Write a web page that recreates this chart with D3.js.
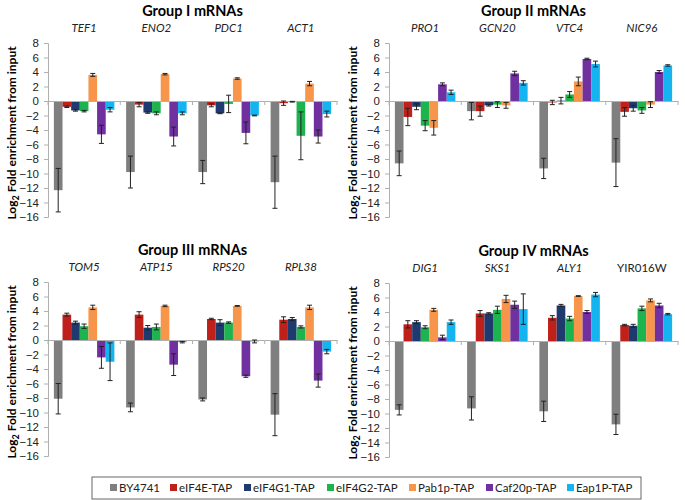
<!DOCTYPE html>
<html lang="en">
<head>
<meta charset="UTF-8">
<title>mRNA enrichment</title>
<script src="https://d3js.org/d3.v7.min.js"></script>
<style>
    body { margin: 0; background: #fff; }
    svg { font-family: Lato, 'Open Sans', sans-serif; }
    .title { font-weight: bold; font-size: 14.5px; text-anchor: middle; }
    .gene { font-style: italic; font-size: 11.5px; text-anchor: middle; fill: #222; }
    .ylab { font-weight: bold; font-size: 12px; text-anchor: middle; }
    .tick text { font-size: 11.5px; fill: #222; }
    .legend text { font-size: 11.5px; fill: #222; }
</style>
</head>
<body>
<svg width="685" height="500"></svg>
<script>
    const series = ["BY4741", "eIF4E-TAP", "eIF4G1-TAP", "eIF4G2-TAP", "Pab1p-TAP", "Caf20p-TAP", "Eap1P-TAP"];
    const colors = ["#7f7f7f", "#c0201a", "#1f3a6e", "#1db34e", "#f7964a", "#7030a0", "#14b4f0"];
    const yTicks = [8, 6, 4, 2, 0, -2, -4, -6, -8, -10, -12, -14, -16];

    const titles = ["Group I mRNAs", "Group II mRNAs", "Group III mRNAs", "Group IV mRNAs"];
    const genes = [
        ["TEF1", "ENO2", "PDC1", "ACT1"],
        ["PRO1", "GCN20", "VTC4", "NIC96"],
        ["TOM5", "ATP15", "RPS20", "RPL38"],
        ["DIG1", "SKS1", "ALY1", "YIR016W"]
    ];
    const italicGene = g => g !== "YIR016W";

    // rows = series, columns = genes
    const group1 = [
        [-12.3, -9.8, -9.8, -11.2],
        [-0.8, -0.5, -0.6, -0.3],
        [-1.3, -1.6, -1.7, -0.1],
        [-1.4, -1.7, -0.4, -4.8],
        [3.6, 3.7, 3.1, 2.4],
        [-4.6, -4.9, -4.4, -4.9],
        [-1.2, -1.7, -2.0, -1.8]
    ];
    const group1Err = [
        [3.0, 2.2, 1.6, 3.6],
        [0.1, 0.3, 0.2, 0.3],
        [0.1, 0.1, 0.05, 0.05],
        [0.1, 0.2, 1.2, 3.3],
        [0.2, 0.1, 0.1, 0.3],
        [1.25, 1.3, 1.5, 0.9],
        [0.3, 0.2, 0.05, 0.4]
    ];
    const group2 = [
        [-8.6, -1.4, -9.3, -8.5],
        [-2.2, -1.4, -0.2, -1.5],
        [-0.8, -0.6, 0.05, -1.0],
        [-3.4, -0.5, 0.9, -1.3],
        [-3.7, -0.6, 2.7, -0.5],
        [2.3, 3.8, 5.8, 4.0],
        [1.2, 2.5, 5.1, 4.9]
    ];
    const group2Err = [
        [1.7, 1.2, 1.4, 3.3],
        [1.2, 0.7, 0.3, 0.6],
        [0.4, 0.1, 0.45, 0.4],
        [0.7, 0.4, 0.4, 0.4],
        [1.0, 0.4, 0.6, 0.4],
        [0.2, 0.3, 0.1, 0.2],
        [0.3, 0.3, 0.4, 0.1]
    ];
    const group3 = [
        [-8.1, -9.3, -8.2, -10.3],
        [3.5, 3.5, 2.9, 2.8],
        [2.4, 1.7, 2.4, 2.9],
        [1.9, 1.8, 2.4, 1.8],
        [4.5, 4.7, 4.7, 4.5],
        [-2.4, -3.4, -5.0, -5.6],
        [-3.0, -0.3, -0.2, -1.6]
    ];
    const group3Err = [
        [2.1, 0.6, 0.2, 2.9],
        [0.2, 0.4, 0.1, 0.4],
        [0.2, 0.3, 0.4, 0.2],
        [0.3, 0.4, 0.1, 0.15],
        [0.3, 0.1, 0.05, 0.3],
        [1.5, 1.5, 0.15, 0.9],
        [2.6, 0.1, 0.2, 0.3]
    ];
    const group4 = [
        [-9.5, -9.3, -9.7, -11.5],
        [2.3, 3.8, 3.2, 2.2],
        [2.6, 3.8, 4.9, 2.1],
        [1.9, 4.3, 3.1, 4.5],
        [4.3, 5.8, 6.2, 5.6],
        [0.5, 5.0, 4.0, 4.9],
        [2.6, 4.4, 6.4, 3.7]
    ];
    const group4Err = [
        [0.7, 1.6, 1.4, 1.4],
        [0.5, 0.4, 0.3, 0.1],
        [0.2, 0.1, 0.15, 0.2],
        [0.2, 0.5, 0.3, 0.3],
        [0.2, 0.5, 0.05, 0.2],
        [0.3, 0.5, 0.2, 0.3],
        [0.3, 2.1, 0.3, 0.1]
    ];
    const values = [group1, group2, group3, group4];
    const errors = [group1Err, group2Err, group3Err, group4Err];

    const svg = d3.select("svg");
    const origins = [[0, 0], [341, 0], [0, 239], [341, 240]];
    const plotW = 289, plotTop = 43, plotBottom = 217, axisX = 48;

    for (let p = 0; p < 4; p++) drawPanel(p);

    function drawPanel(p) {
        const g = svg.append("g").attr("transform", `translate(${origins[p][0]},${origins[p][1]})`);
        const y = d3.scaleLinear().domain([-16, 8]).range([plotBottom, plotTop]);
        const x0 = d3.scaleBand().domain(genes[p]).range([axisX, axisX + plotW]);
        const x1 = d3.scaleBand().domain(series).range([0, x0.bandwidth()]).paddingOuter(0.68);

        g.append("text").attr("class", "title")
            .attr("x", axisX + plotW / 2).attr("y", 16).text(titles[p]);

        g.selectAll("text.gene").data(genes[p]).enter().append("text")
            .attr("class", "gene")
            .style("font-style", d => italicGene(d) ? "italic" : "normal")
            .attr("x", d => x0(d) + x0.bandwidth() / 2).attr("y", 32).text(d => d);

        const yl = g.append("text").attr("class", "ylab")
            .attr("transform", `translate(16,${(plotTop + plotBottom) / 2 + 3}) rotate(-90)`);
        yl.append("tspan").text("Log");
        yl.append("tspan").attr("dy", 3).style("font-size", "9px").text("2");
        yl.append("tspan").attr("dy", -3).text(" Fold enrichment from input");

        const yAxis = g.append("g").attr("transform", `translate(${axisX},0)`)
            .call(d3.axisLeft(y).tickValues(yTicks).tickSize(4).tickPadding(5));
        yAxis.selectAll("path, line").attr("stroke", "#b0b0b0");

        const rows = values[p].map((row, si) => row.map((v, gi) => ({
            s: series[si], gene: genes[p][gi], v: v, e: errors[p][si][gi], c: colors[si]
        }))).flat();

        g.selectAll("rect.bar").data(rows).enter().append("rect")
            .attr("class", "bar")
            .attr("x", d => x0(d.gene) + x1(d.s))
            .attr("width", x1.bandwidth())
            .attr("y", d => y(Math.max(0, d.v)))
            .attr("height", d => Math.abs(y(d.v) - y(0)))
            .attr("fill", d => d.c);

        // x axis at zero with category separators
        const xAxis = g.append("g").attr("transform", `translate(0,${y(0)})`)
            .call(d3.axisBottom(x0).tickSize(0).tickFormat(""));
        xAxis.select("path").attr("stroke", "#b0b0b0");
        g.selectAll("line.sep").data(d3.range(genes[p].length + 1)).enter().append("line")
            .attr("class", "sep")
            .attr("x1", i => axisX + i * x0.step()).attr("x2", i => axisX + i * x0.step())
            .attr("y1", y(0)).attr("y2", y(0) + 4)
            .attr("stroke", "#b0b0b0");

        const eb = g.selectAll("g.err").data(rows).enter().append("g").attr("class", "err")
            .attr("stroke", "#222").attr("stroke-width", 1);
        const cx = d => x0(d.gene) + x1(d.s) + x1.bandwidth() / 2;
        eb.append("line").attr("x1", cx).attr("x2", cx)
            .attr("y1", d => y(d.v + d.e)).attr("y2", d => y(d.v - d.e));
        eb.append("line").attr("x1", d => cx(d) - 2.5).attr("x2", d => cx(d) + 2.5)
            .attr("y1", d => y(d.v + d.e)).attr("y2", d => y(d.v + d.e));
        eb.append("line").attr("x1", d => cx(d) - 2.5).attr("x2", d => cx(d) + 2.5)
            .attr("y1", d => y(d.v - d.e)).attr("y2", d => y(d.v - d.e));
    }

    // legend
    const legendX = [110, 170, 244, 327, 409, 486, 567];
    const lg = svg.append("g").attr("class", "legend");
    lg.append("rect").attr("x", 92).attr("y", 477).attr("width", 549).attr("height", 22)
        .attr("fill", "#fff").attr("stroke", "#666");
    series.forEach((s, i) => {
        lg.append("rect").attr("x", legendX[i]).attr("y", 484).attr("width", 7).attr("height", 7).attr("fill", colors[i]);
        lg.append("text").attr("x", legendX[i] + 9).attr("y", 492).text(s);
    });
</script>
</body>
</html>
